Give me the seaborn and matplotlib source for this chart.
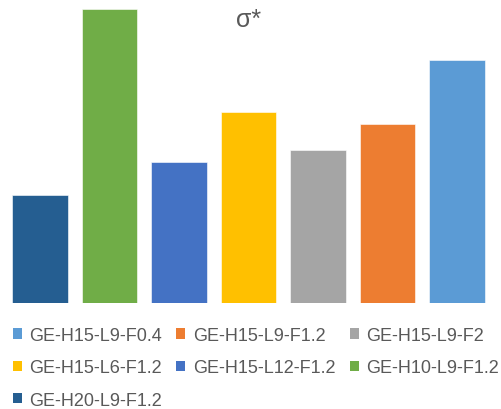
import matplotlib
matplotlib.use("Agg")
import matplotlib.pyplot as plt
from matplotlib.patches import Patch
import seaborn as sns

# bar order left to right
labels = ["GE-H20-L9-F1.2", "GE-H10-L9-F1.2", "GE-H15-L12-F1.2", "GE-H15-L6-F1.2",
          "GE-H15-L9-F2", "GE-H15-L9-F1.2", "GE-H15-L9-F0.4"]
values = [1.08, 2.94, 1.41, 1.91, 1.53, 1.79, 2.43]
colors = ["#255E91", "#70AD47", "#4472C4", "#FFC000", "#A5A5A5", "#ED7D31", "#5B9BD5"]

sns.set_style("white")
plt.rcParams["font.family"] = ["Liberation Sans", "DejaVu Sans"]

fig = plt.figure(figsize=(5.01, 4.10), dpi=100)
ax = fig.add_axes([5.5 / 501, 106 / 410, 486 / 501, 300 / 410])

sns.barplot(x=labels, y=values, hue=labels, palette=dict(zip(labels, colors)),
            saturation=1, width=0.8, legend=False, edgecolor="white",
            linewidth=0.4, ax=ax)
ax.set_ylim(0, 3.0)
ax.set_xlim(-0.5, 6.5)
ax.set_axis_off()

fig.text(249 / 501, 1 - 20 / 410, "σ*", ha="center", va="center",
         fontsize=18, color="#595959")

# legend is in reverse bar order, filled row by row
leg_labels = labels[::-1]
leg_colors = colors[::-1]
handles = [Patch(facecolor=c, edgecolor="none") for c in leg_colors]
order = [0, 3, 6, 1, 4, 2, 5]
fig.legend([handles[i] for i in order], [leg_labels[i] for i in order],
           ncol=3, loc="upper left", bbox_to_anchor=(13 / 501, 1 - 328 / 410),
           frameon=False, fontsize=13, labelcolor="#595959",
           handlelength=0.5, handleheight=0.5, handletextpad=0.4,
           columnspacing=0.8, labelspacing=0.85, borderpad=0, borderaxespad=0)

fig.savefig("out.png", dpi=100)
